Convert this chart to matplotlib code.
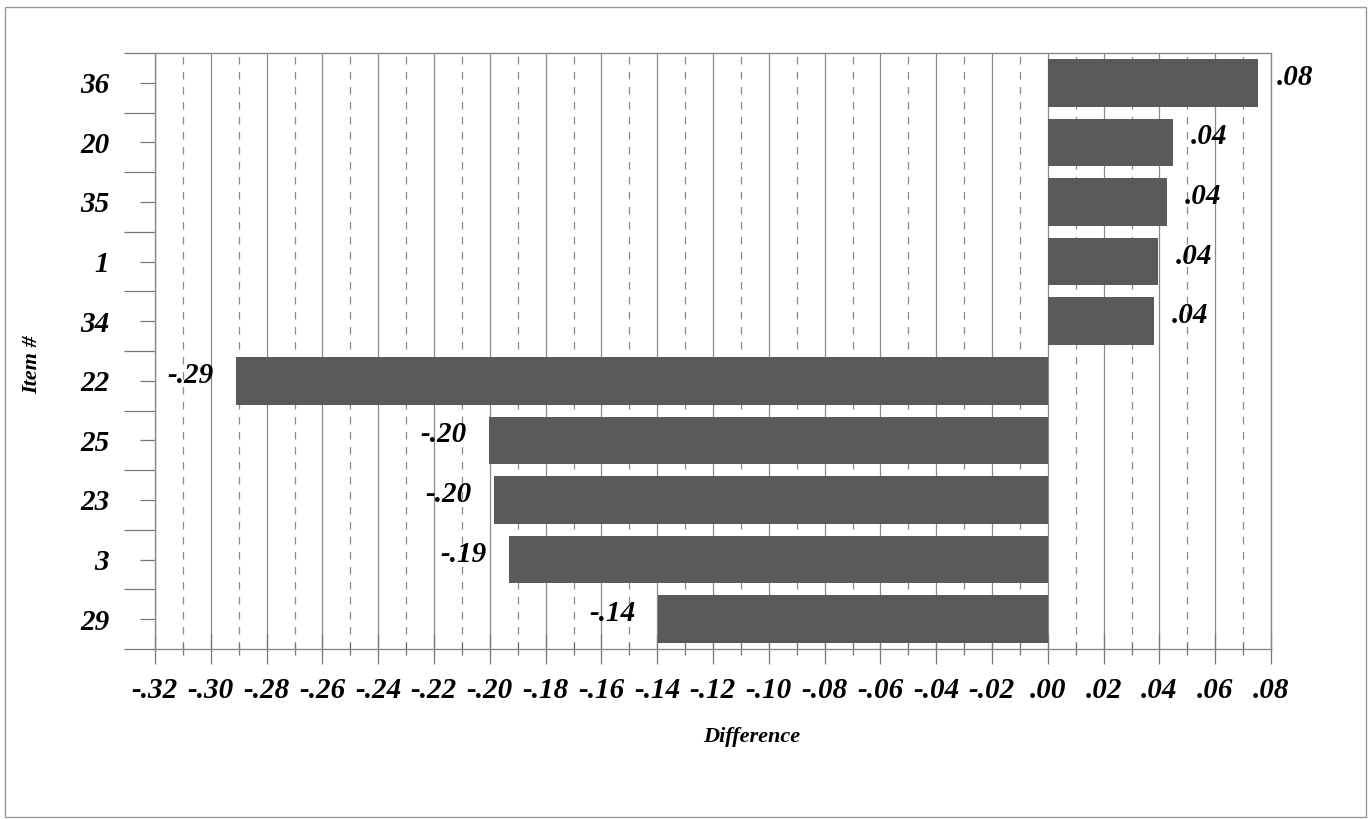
import numpy as np
import matplotlib
matplotlib.use("Agg")
import matplotlib.pyplot as plt
from matplotlib.patches import Rectangle
from matplotlib.ticker import MultipleLocator, FixedLocator

# data, top to bottom
items = ["36", "20", "35", "1", "34", "22", "25", "23", "3", "29"]
differences = [0.0755, 0.0448, 0.0427, 0.0394, 0.0380,
               -0.2910, -0.2004, -0.1986, -0.1932, -0.1398]
x_ticks = np.round(np.arange(-0.32, 0.081, 0.02), 2)

FONT = dict(family="Liberation Serif", weight="bold", style="italic")


def fmt(v):
    s = f"{v:.2f}"
    return s.replace("0.", ".")


fig = plt.figure(figsize=(13.7, 8.19), dpi=100)
ax = fig.add_axes([155 / 1370, 1 - 649 / 819, (1271 - 155) / 1370, (649 - 53) / 819])

pos = np.arange(len(items))
ax.barh(pos, differences, height=0.8, color="#5a5a5a", zorder=3)

ax.set_xlim(-0.32, 0.08)
ax.set_ylim(len(items) - 0.5, -0.5)

ax.xaxis.set_major_locator(FixedLocator(x_ticks))
ax.xaxis.set_minor_locator(MultipleLocator(0.01))
ax.set_xticklabels([fmt(t) for t in x_ticks], fontsize=21, **FONT)
ax.grid(which="major", axis="x", color="#8a8a8a", lw=0.9, ls="-", zorder=1)
ax.grid(which="minor", axis="x", color="#8a8a8a", lw=0.9, ls=(0, (6, 6)), zorder=1)

ax.set_yticks(pos)
ax.set_yticklabels(items, fontsize=21, **FONT)
ax.yaxis.set_minor_locator(FixedLocator(np.arange(-0.5, len(items), 1.0)))

ax.tick_params(axis="x", which="major", direction="inout", length=22, width=0.9,
               color="#777777", pad=9)
ax.tick_params(axis="x", which="minor", direction="inout", length=9, width=0.9,
               color="#777777")
ax.tick_params(axis="y", which="major", direction="out", length=11, width=0.9,
               color="#777777", pad=22)
ax.tick_params(axis="y", which="minor", direction="out", length=22, width=0.9,
               color="#777777")

for sp in ax.spines.values():
    sp.set_color("#8a8a8a")
    sp.set_linewidth(1.0)

for p, v in zip(pos, differences):
    if v >= 0:
        ax.annotate(fmt(v), (v, p), xytext=(13, 4), textcoords="offset points",
                    ha="left", va="center", fontsize=21, **FONT)
    else:
        ax.annotate(fmt(v), (v, p), xytext=(-16, 4), textcoords="offset points",
                    ha="right", va="center", fontsize=21, **FONT)

fig.text(752 / 1370, 1 - 737 / 819, "Difference", ha="center", va="center",
         fontsize=16, **FONT)
fig.text(32 / 1370, 1 - 365 / 819, "Item #", ha="center", va="center",
         rotation=90, fontsize=16, **FONT)

fig.patches.append(Rectangle((5 / 1370, 2 / 819), 1361 / 1370, 810 / 819,
                             transform=fig.transFigure, fill=False,
                             edgecolor="#9a9a9a", lw=1.0))

fig.savefig("out.png", dpi=100)
